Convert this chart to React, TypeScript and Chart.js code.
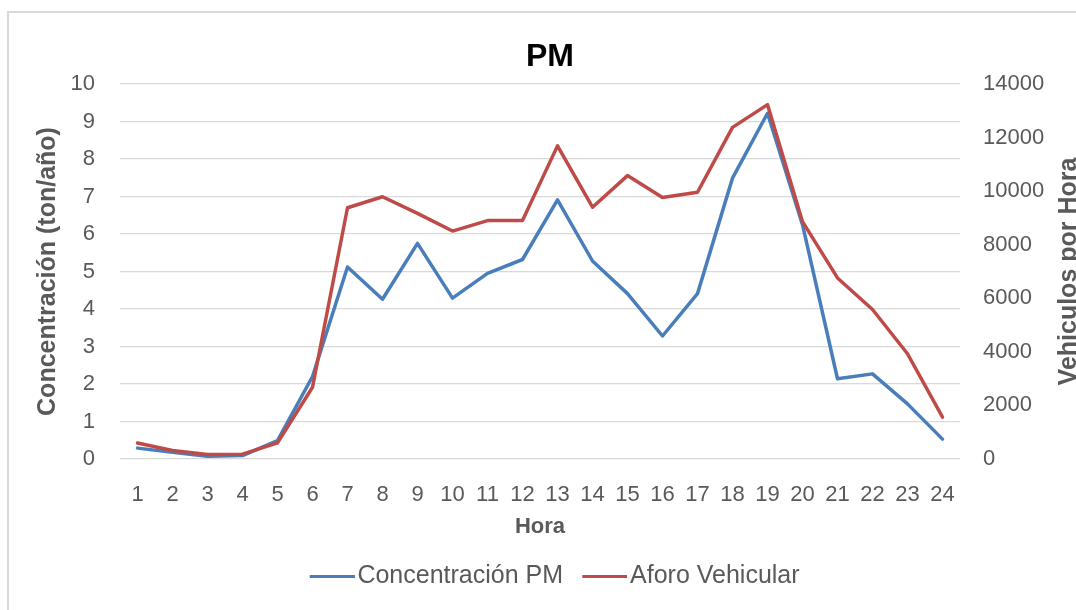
import React, { useEffect, useRef } from 'react';
import { Chart, registerables } from 'chart.js';

Chart.register(...registerables);

// ---- data ----
const HOURS = ['1', '2', '3', '4', '5', '6', '7', '8', '9', '10', '11', '12', '13', '14', '15', '16', '17', '18', '19', '20', '21', '22', '23', '24'];
const CONC_PM = [0.29, 0.18, 0.07, 0.09, 0.49, 2.2, 5.12, 4.26, 5.75, 4.29, 4.95, 5.32, 6.91, 5.28, 4.41, 3.28, 4.41, 7.49, 9.22, 6.25, 2.14, 2.27, 1.47, 0.53];
const AFORO = [600, 320, 170, 180, 600, 2680, 9380, 9790, 9170, 8510, 8900, 8900, 11690, 9400, 10580, 9760, 9960, 12380, 13230, 8860, 6760, 5580, 3930, 1560];

const SERIES_NAMES = ['Concentración PM', 'Aforo Vehicular'];
const SERIES_COLORS = ['#4A7EBB', '#BE4B48'];
const TITLE = 'PM';
const X_TITLE = 'Hora';
const Y_TITLE = 'Concentración (ton/año)';
const Y1_TITLE = 'Vehiculos por Hora';
const Y_MAX = 10;
const Y_STEP = 1;
const Y1_MAX = 14000;
const Y1_STEP = 2000;

const FONT = "'Liberation Sans', Arial, sans-serif";
const GREY = '#595959';

function makeLegendLine(color: string) {
  const c = document.createElement('canvas');
  c.width = 64;
  c.height = 3;
  const g = c.getContext('2d')!;
  g.fillStyle = color;
  g.fillRect(19, 0, 45, 3);
  return c;
}

const rightTitlePlugin = {
  id: 'rightTitle',
  afterDraw(chart: any) {
    const { ctx, chartArea } = chart;
    ctx.save();
    ctx.translate(1059, (chartArea.top + chartArea.bottom) / 2);
    ctx.rotate(-Math.PI / 2);
    ctx.font = `bold 25px ${FONT}`;
    ctx.fillStyle = GREY;
    ctx.textAlign = 'center';
    ctx.textBaseline = 'middle';
    ctx.fillText(Y1_TITLE, 0, 0);
    ctx.restore();
  },
};

export default function App() {
  const ref = useRef<HTMLCanvasElement | null>(null);

  useEffect(() => {
    if (!ref.current) return;
    const lines = SERIES_COLORS.map(makeLegendLine);
    const defaultLabels = Chart.defaults.plugins.legend.labels.generateLabels;
    const chart = new Chart(ref.current, {
      type: 'line',
      data: {
        labels: HOURS,
        datasets: [
          {
            label: SERIES_NAMES[0],
            data: CONC_PM,
            yAxisID: 'y',
            borderColor: SERIES_COLORS[0],
            backgroundColor: SERIES_COLORS[0],
            borderWidth: 3.5,
            pointRadius: 0,
            tension: 0,
            borderJoinStyle: 'round',
            borderCapStyle: 'round',
            order: 1,
          },
          {
            label: SERIES_NAMES[1],
            data: AFORO,
            yAxisID: 'y1',
            borderColor: SERIES_COLORS[1],
            backgroundColor: SERIES_COLORS[1],
            borderWidth: 3.5,
            pointRadius: 0,
            tension: 0,
            borderJoinStyle: 'round',
            borderCapStyle: 'round',
            order: 0,
          },
        ],
      },
      options: {
        responsive: false,
        animation: false,
        layout: { padding: { top: 0, left: 0, right: 0, bottom: 14.5 } },
        plugins: {
          tooltip: { enabled: false },
          title: {
            display: true,
            text: TITLE,
            color: '#000',
            font: { family: FONT, size: 32, weight: 'bold' },
            padding: { top: 24.8, bottom: 7.8 },
          },
          legend: {
            position: 'bottom',
            labels: {
              usePointStyle: true,
              pointStyleWidth: 44.5,
              padding: 10,
              color: GREY,
              font: { family: FONT, size: 25 },
              sort: (a: any, b: any) => a.datasetIndex - b.datasetIndex,
              generateLabels: (ch: any) =>
                defaultLabels(ch).map((l: any) => ({ ...l, pointStyle: lines[l.datasetIndex] })),
            },
          },
        },
        scales: {
          x: {
            offset: true,
            grid: { display: false, drawTicks: false },
            border: { display: false },
            ticks: {
              color: GREY,
              font: { family: FONT, size: 22 },
              padding: 22.8,
              autoSkip: false,
              maxRotation: 0,
            },
            title: {
              display: true,
              text: X_TITLE,
              color: GREY,
              font: { family: FONT, size: 22, weight: 'bold' },
              padding: { top: 0, bottom: 13 },
            },
            afterFit: (s: any) => {
              s.height = 94.5;
            },
          },
          y: {
            position: 'left',
            min: 0,
            max: Y_MAX,
            grid: { color: '#D9D9D9', lineWidth: 1.3, drawTicks: false },
            border: { display: false },
            ticks: {
              stepSize: Y_STEP,
              color: GREY,
              font: { family: FONT, size: 22 },
              padding: 25,
            },
            title: {
              display: true,
              text: Y_TITLE,
              color: GREY,
              font: { family: FONT, size: 25, weight: 'bold' },
              padding: { top: 23, bottom: 0 },
            },
            afterFit: (s: any) => {
              s.width = 110;
            },
          },
          y1: {
            position: 'right',
            min: 0,
            max: Y1_MAX,
            grid: { display: false, drawTicks: false },
            border: { display: false },
            ticks: {
              stepSize: Y1_STEP,
              color: GREY,
              font: { family: FONT, size: 22 },
              padding: 23,
              callback: (v: any) => String(v),
            },
            afterFit: (s: any) => {
              s.width = 130;
            },
          },
        },
      },
      plugins: [rightTitlePlugin],
    } as any);
    return () => chart.destroy();
  }, []);

  return (
    <div style={{ position: 'fixed', left: 0, top: 0, width: '100vw', height: '100vh', overflow: 'hidden', background: '#fff' }}>
      <div
        style={{
          position: 'absolute',
          left: 7,
          top: 11,
          width: 1200,
          height: 800,
          border: '2px solid #D9D9D9',
          boxSizing: 'border-box',
        }}
      />
      <canvas ref={ref} width={1080} height={600} style={{ position: 'absolute', left: 10, top: 13, width: 1080, height: 600 }} />
    </div>
  );
}
